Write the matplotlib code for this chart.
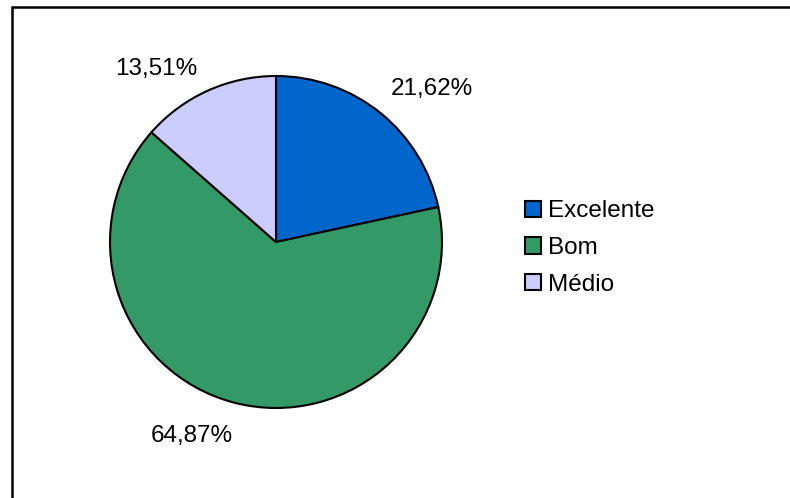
import matplotlib
matplotlib.use('Agg')
import matplotlib.pyplot as plt
from matplotlib.patches import Rectangle

plt.rcParams['font.family'] = ['Liberation Sans', 'DejaVu Sans']

# Dados
categorias = ['Excelente', 'Bom', 'Médio']
valores = [21.62, 64.87, 13.51]
cores = ['#0066CC', '#339966', '#CCCCFF']
rotulos = [('%.2f%%' % v).replace('.', ',') for v in valores]

W, H = 790, 498
fig = plt.figure(figsize=(W / 100, H / 100), dpi=100)

# Moldura do grafico
fig.patches.append(Rectangle((12 / W, -0.1), 1.2, 1.1 - 7 / H,
                             transform=fig.transFigure, fill=False,
                             edgecolor='black', linewidth=1.8))

# Pizza
cx, cy, r = 276, 242, 166
ax = fig.add_axes([(cx - r) / W, (H - cy - r) / H, 2 * r / W, 2 * r / H])
fatias, textos = ax.pie(valores, colors=cores, startangle=90, counterclock=False,
                        labels=rotulos, labeldistance=1.3,
                        wedgeprops=dict(edgecolor='black', linewidth=1.5),
                        textprops=dict(fontsize=17.5))
ax.set_xlim(-1, 1)
ax.set_ylim(-1, 1)

# posicao dos rotulos como no original
pos_rotulos = [(0.94, 0.92), (-0.51, -1.17), (-0.72, 1.04)]
for t, p in zip(textos, pos_rotulos):
    t.set_position(p)
    t.set_ha('center')
    t.set_va('center')

fig.legend(fatias, categorias, loc='center left',
           bbox_to_anchor=(525 / W, 1 - 248 / H), frameon=False,
           fontsize=17.5, handlelength=0.65, handleheight=0.65,
           handletextpad=0.3, labelspacing=0.6, borderpad=0, borderaxespad=0)

fig.savefig('out.png', dpi=100)
